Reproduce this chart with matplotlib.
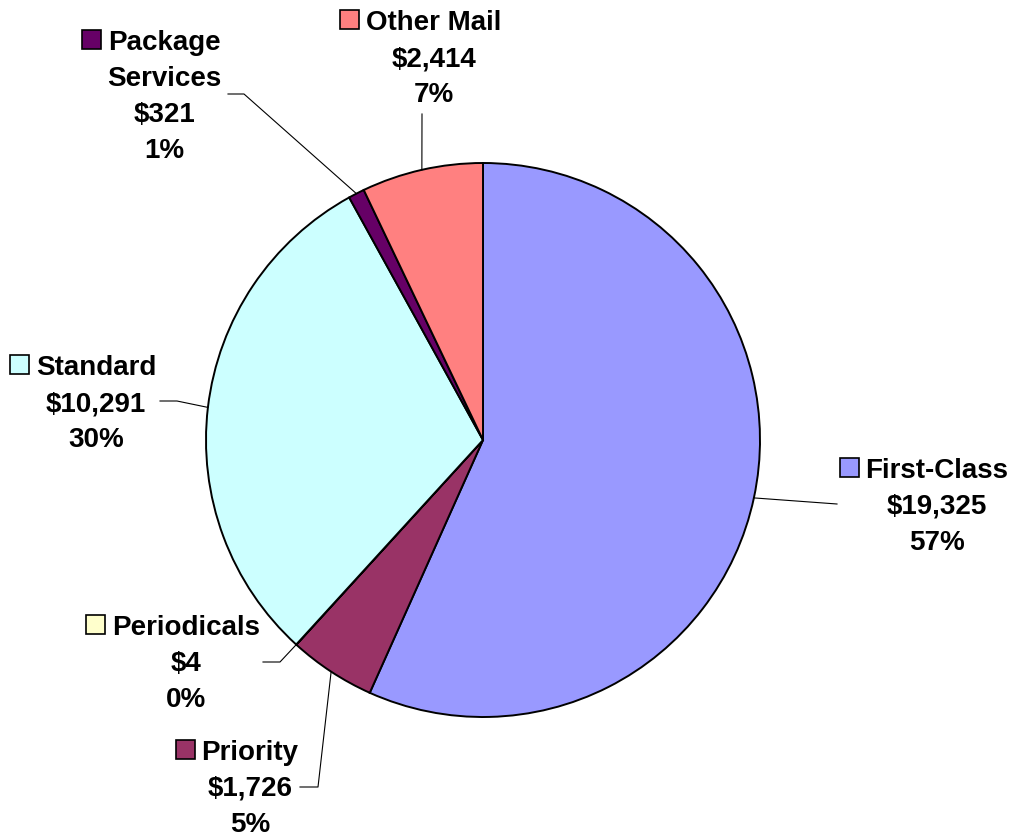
import numpy as np
import matplotlib
matplotlib.use("Agg")
import matplotlib.pyplot as plt
from matplotlib.patches import Rectangle

# data (clockwise from 12 o'clock)
names = ["First-Class", "Priority", "Periodicals", "Standard", "Package\nServices", "Other Mail"]
values = [19325, 1726, 4, 10291, 321, 2414]
colors = ["#9999FF", "#993366", "#FFFFCC", "#CCFFFF", "#660066", "#FF8080"]

W, H = 1011, 837
cx, cy, R = 483, 441, 277  # pixel coords, y down

# label layout: text centre x, first baseline y, leader path after edge point
label_pos = [
    (937, 478, [(837, 505)]),
    (250, 760, [(318, 788), (300, 788)]),
    (186, 635, [(280, 663), (263, 663)]),
    (96, 375, [(177, 402), (160, 402)]),
    (164, 50, [(244, 95), (228, 95)]),
    (434, 30, [(422, 115)]),
]
line_gap = 36

fig = plt.figure(figsize=(W / 100, H / 100), dpi=100)
ax = fig.add_axes([0, 0, 1, 1])
ax.set_xlim(0, W)
ax.set_ylim(0, H)
ax.axis("off")

ax.pie(values, colors=colors, center=(cx, H - cy), radius=R,
       startangle=90, counterclock=False,
       wedgeprops=dict(edgecolor="black", linewidth=1.4))
ax.set_xlim(0, W)
ax.set_ylim(0, H)
ax.set_aspect("equal")

total = sum(values)
font = dict(family="Liberation Sans", weight="bold", size=20, color="black")
renderer = fig.canvas.get_renderer()

cum = 0
for name, v, col, (tx, ty, path) in zip(names, values, colors, label_pos):
    mid = (cum + v / 2) / total
    cum += v
    ang = np.deg2rad(90 - 360 * mid)
    ex, ey = cx + R * np.cos(ang), cy - R * np.sin(ang)
    pts = [(ex, ey)] + path
    ax.plot([p[0] for p in pts], [H - p[1] for p in pts], color="black", lw=0.8)

    lines = name.split("\n") + ["${:,}".format(v), "{}%".format(round(v / total * 100))]
    for i, s in enumerate(lines):
        t = ax.text(tx, H - (ty + i * line_gap), s, ha="center", va="baseline", **font)
        if i == 0:
            bb = t.get_window_extent(renderer)
            left = bb.x0
            ax.add_patch(Rectangle((left - 26, H - ty), 19, 19,
                                   facecolor=col, edgecolor="black", lw=1.2))

fig.savefig("out.png", dpi=100)
